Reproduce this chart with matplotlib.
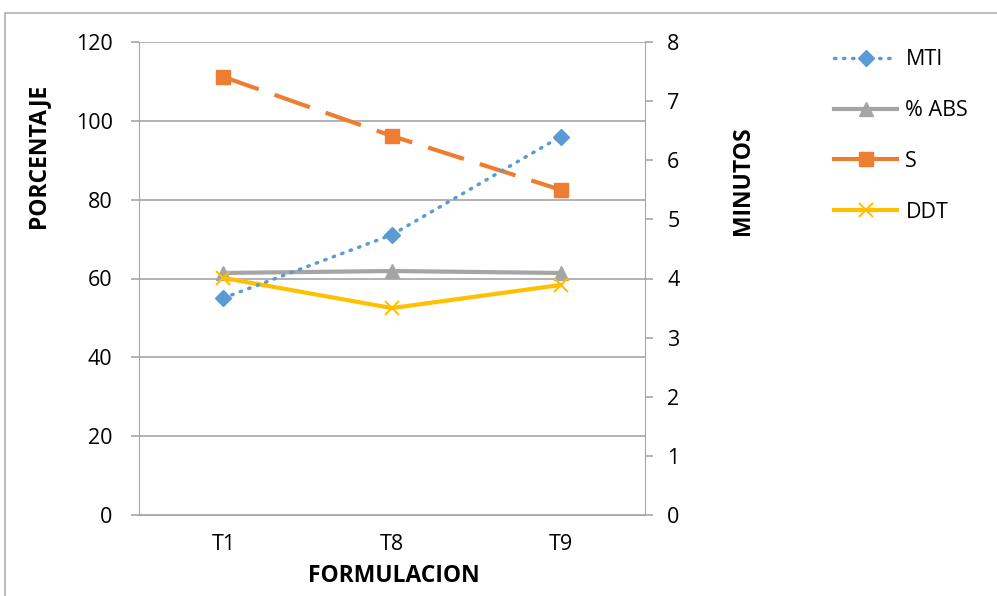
import matplotlib.pyplot as plt
from matplotlib.lines import Line2D
from matplotlib.patches import Rectangle

plt.rcParams['font.family'] = ['Open Sans', 'DejaVu Sans']

categories = ['T1', 'T8', 'T9']
mti = [3.67, 4.74, 6.40]      # minutos
abs_pct = [61.4, 61.9, 61.4]  # porcentaje
s_vals = [7.41, 6.41, 5.50]   # minutos
ddt = [4.01, 3.50, 3.89]      # minutos

c_mti = '#5b9bd5'
c_abs = '#a5a5a5'
c_s = '#ed7d31'
c_ddt = '#ffc000'
grid_c = '#a6a6a6'
W, H = 997, 596

fig = plt.figure(figsize=(W / 100, H / 100), dpi=100)
fig.patches.append(Rectangle((5 / W, -0.1), 1.1, 1 - 13 / H + 0.1,
                             transform=fig.transFigure, fill=False,
                             ec='#b0b0b0', lw=1.2))

ax1 = fig.add_axes([139 / W, 1 - 515 / H, 506 / W, 473 / H])
ax2 = ax1.twinx()
x = list(range(len(categories)))

ax1.set_ylim(0, 120)
ax1.set_yticks(range(0, 121, 20))
ax1.set_xlim(-0.5, 2.5)
ax1.set_xticks(x)
ax1.set_xticklabels(categories)
ax1.yaxis.grid(True, color=grid_c, lw=1.2)
ax1.set_axisbelow(True)
ax2.set_ylim(0, 8)
ax2.set_yticks(range(0, 9))

for a in (ax1, ax2):
    for sp in a.spines.values():
        sp.set_visible(False)
    a.tick_params(labelsize=15.5, color=grid_c, length=6, width=1.2)
ax1.spines['left'].set_visible(True)
ax1.spines['left'].set_color(grid_c)
ax1.spines['bottom'].set_visible(True)
ax1.spines['bottom'].set_color(grid_c)
ax2.spines['right'].set_visible(True)
ax2.spines['right'].set_color(grid_c)
ax1.tick_params(axis='y', pad=13)
ax2.tick_params(axis='y', pad=10)
ax1.tick_params(axis='x', length=0, pad=14)

ax1.plot(x, abs_pct, color=c_abs, lw=3, marker='^', ms=10, zorder=3)
ax2.plot(x, ddt, color=c_ddt, lw=3, marker='x', ms=10, mew=1.5, zorder=3)
ax2.plot(x, s_vals, color=c_s, lw=3, marker='s', ms=10, dashes=(9, 4), zorder=3)
ax2.plot(x, mti, color=c_mti, lw=2.5, marker='D', ms=8, linestyle=(0, (0.4, 2.2)),
         dash_capstyle='round', zorder=4)

fig.text(38 / W, 1 - 156 / H, 'PORCENTAJE', rotation=90, ha='center', va='center',
         fontsize=16.5, fontweight='bold')
fig.text(743 / W, 1 - 181 / H, 'MINUTOS', rotation=90, ha='center', va='center',
         fontsize=16.5, fontweight='bold')
fig.text(394 / W, 1 - 576 / H, 'FORMULACION', ha='center', va='center',
         fontsize=16.5, fontweight='bold')

handles = [
    Line2D([], [], color=c_mti, lw=2.5, marker='D', ms=8, linestyle=(0, (0.4, 2.2)), dash_capstyle='round'),
    Line2D([], [], color=c_abs, lw=3, marker='^', ms=10),
    Line2D([], [], color=c_s, lw=3, marker='s', ms=10),
    Line2D([], [], color=c_ddt, lw=3, marker='x', ms=10, mew=1.5),
]
fig.legend(handles, ['MTI', '% ABS', 'S', 'DDT'], loc='upper left',
           bbox_to_anchor=(815 / W, 1 - 30 / H), frameon=False,
           fontsize=15.5, handlelength=2.9, labelspacing=1.38, handletextpad=0.4)

fig.savefig('out.png', dpi=100)
